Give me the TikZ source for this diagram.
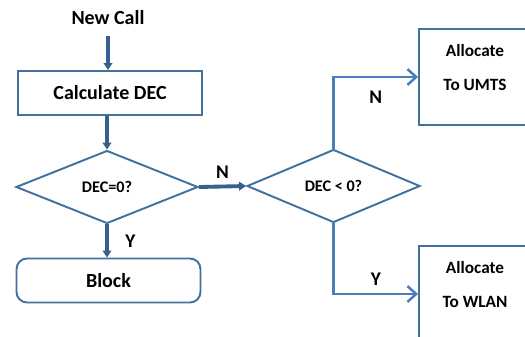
\documentclass[tikz,border=0pt]{standalone}
\usepackage{fontspec}
\setmainfont{Carlito}
\usepackage{xcolor}
\usepackage{tikz}
\usetikzlibrary{arrows.meta,positioning,shapes.geometric}

\definecolor{edgeblue}{HTML}{41719C}
\definecolor{flowdark}{HTML}{36608F}
\definecolor{flowlight}{HTML}{4A7EBB}

\begin{document}
\begin{tikzpicture}[x=0.02cm, y=-0.02cm,
            font=\bfseries\fontsize{11.4}{13}\selectfont,
            box/.style={draw=edgeblue, line width=1.1pt, rectangle, minimum width=3.68cm, minimum height=.88cm, inner sep=0pt, align=center},
            roundbox/.style={box, rounded corners=6pt},
            decision/.style={draw=edgeblue, line width=1.1pt, diamond, aspect=2.5, minimum width=3.64cm, minimum height=1.46cm, inner sep=0pt, font=\bfseries\fontsize{9.2}{11}\selectfont},
            target/.style={draw=edgeblue, line width=1.1pt, rectangle, minimum width=2.24cm, minimum height=1.92cm, inner sep=0pt, align=center, text depth=11pt, font=\bfseries\fontsize{9.8}{19.5}\selectfont},
            flow/.style={draw=flowdark, line width=2.2pt, -{Triangle[length=4pt, width=5pt]}},
            branch/.style={draw=flowlight, line width=1.4pt, -{Straight Barb[length=5pt, width=9pt]}},
            tag/.style={font=\bfseries\fontsize{11}{13}\selectfont}
            ]
            \clip (0,0) rectangle (525,336);

            % Nodes with manual coordinates
            \node (start) at (108,18) {New Call};
            \node[box] (calc) at (110,93) {Calculate DEC};
            \node[decision] (zero) at (107,187) {DEC=0?};
            \node[roundbox] (block) at (108.5,280.5) {Block};
            \node[decision, minimum width=3.46cm] (neg) at (333.5,186) {DEC < 0?};
            \node[target] (umts) at (475,77) {Allocate\\To UMTS};
            \node[target] (wlan) at (475,294) {Allocate\\To WLAN};

            % Arrows
            \draw[flow] (start.south) ++(0,5) coordinate (s) -- (s |- calc.north);
            \draw[flow] (calc.south -| zero.north) -- (zero.north);
            \draw[flow] (zero.south) -- (zero.south |- block.north) node[tag, midway, right=6pt] {Y};
            \draw[flow] (zero.east) -- (neg.west) node[tag, midway, above=0pt] {N};
            \draw[branch] (neg.north) |- (umts.west) node[tag, pos=0.75, below=4pt] {N};
            \draw[branch] (neg.south) |- (wlan.west) node[tag, pos=0.75, above=1pt] {Y};
        \end{tikzpicture}
\end{document}
